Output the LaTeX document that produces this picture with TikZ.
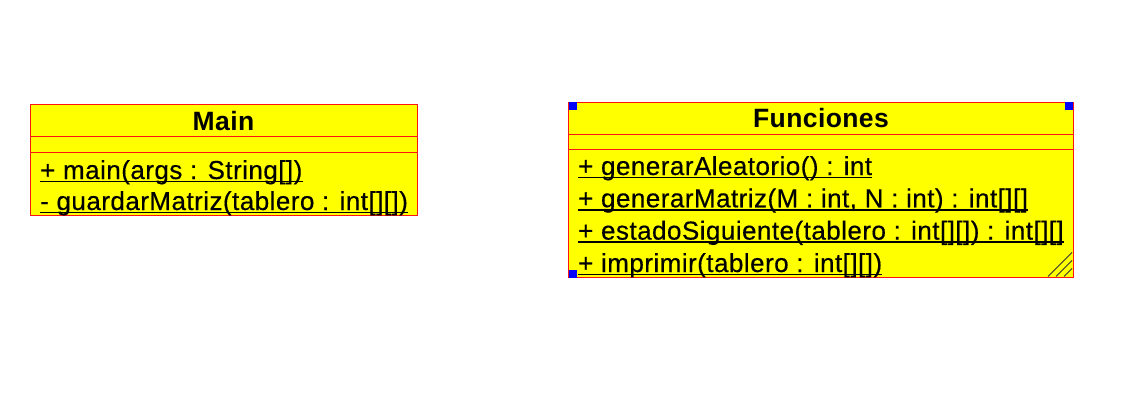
\documentclass[tikz,border=0pt]{standalone}
\usepackage{fontspec}
\setmainfont{Liberation Sans}
\newfontfamily\memberfont[LetterSpace=1.8,FakeBold=0.4]{Liberation Sans}
\newfontfamily\titlefont[LetterSpace=1.5]{Liberation Sans}
\definecolor{umlred}{RGB}{255,20,20}
\definecolor{umlyellow}{RGB}{255,255,0}
\definecolor{handleblue}{RGB}{0,0,255}
\tikzset{
  umlbox/.style={draw=umlred, fill=umlyellow, line width=1pt},
  sepline/.style={draw=umlred, line width=1pt},
  classtitle/.style={anchor=base, inner sep=0pt, font=\titlefont\bfseries\fontsize{26.5}{30}\selectfont},
  member/.style={anchor=base west, inner sep=0pt, font=\memberfont\fontsize{26}{30}\selectfont},
  uline/.style={line width=1.7pt, black},
  handle/.style={fill=handleblue},
  hatch/.style={line width=0.8pt, black!80}
}
\begin{document}
\begin{tikzpicture}[x=1pt,y=-1pt]
\useasboundingbox (0,0) rectangle (1148,404);
\fill[white] (0,0) rectangle (1148,404);
% ---- Main ----
\draw[umlbox] (30,104) rectangle (417,215);
\draw[sepline] (30,136.5) -- (417,136.5);
\draw[sepline] (30,152) -- (417,152);
\node[classtitle] (maintitle) at (223.5,130) {Main};
\node[member] (m1) at (40,179) {+ main(args : String[])};
\node[member] (m2) at (40,210) {- guardarMatriz(tablero : int[][])};
\foreach \n in {m1,m2}
  \draw[uline] ([yshift=-2.5pt]\n.base west) -- ([yshift=-2.5pt]\n.base east);
% ---- Funciones ----
\draw[umlbox] (568.5,102) rectangle (1073,277.5);
\draw[sepline] (568.5,134) -- (1073,134);
\draw[sepline] (568.5,149) -- (1073,149);
\node[classtitle] (ftitle) at (821,127.5) {Funciones};
\node[member] (f1) at (578,175) {+ generarAleatorio() : int};
\node[member] (f2) at (578,207.3) {+ generarMatriz(M : int, N : int) : int[][]};
\node[member] (f3) at (578,239.6) {+ estadoSiguiente(tablero : int[][]) : int[][]};
\node[member] (f4) at (578,272) {+ imprimir(tablero : int[][])};
\foreach \n in {f1,f2,f3,f4}
  \draw[uline] ([yshift=-2.5pt]\n.base west) -- ([yshift=-2.5pt]\n.base east);
% selection handles
\fill[handle] (568.5,102) rectangle (576.5,110);
\fill[handle] (1065,102) rectangle (1073,110);
\fill[handle] (568.5,269.5) rectangle (576.5,277.5);
% resize hatch
\draw[hatch] (1048,276.5) -- (1072,252.5);
\draw[hatch] (1056,276.5) -- (1072,260.5);
\draw[hatch] (1064,276.5) -- (1072,268.5);
\end{tikzpicture}
\end{document}
